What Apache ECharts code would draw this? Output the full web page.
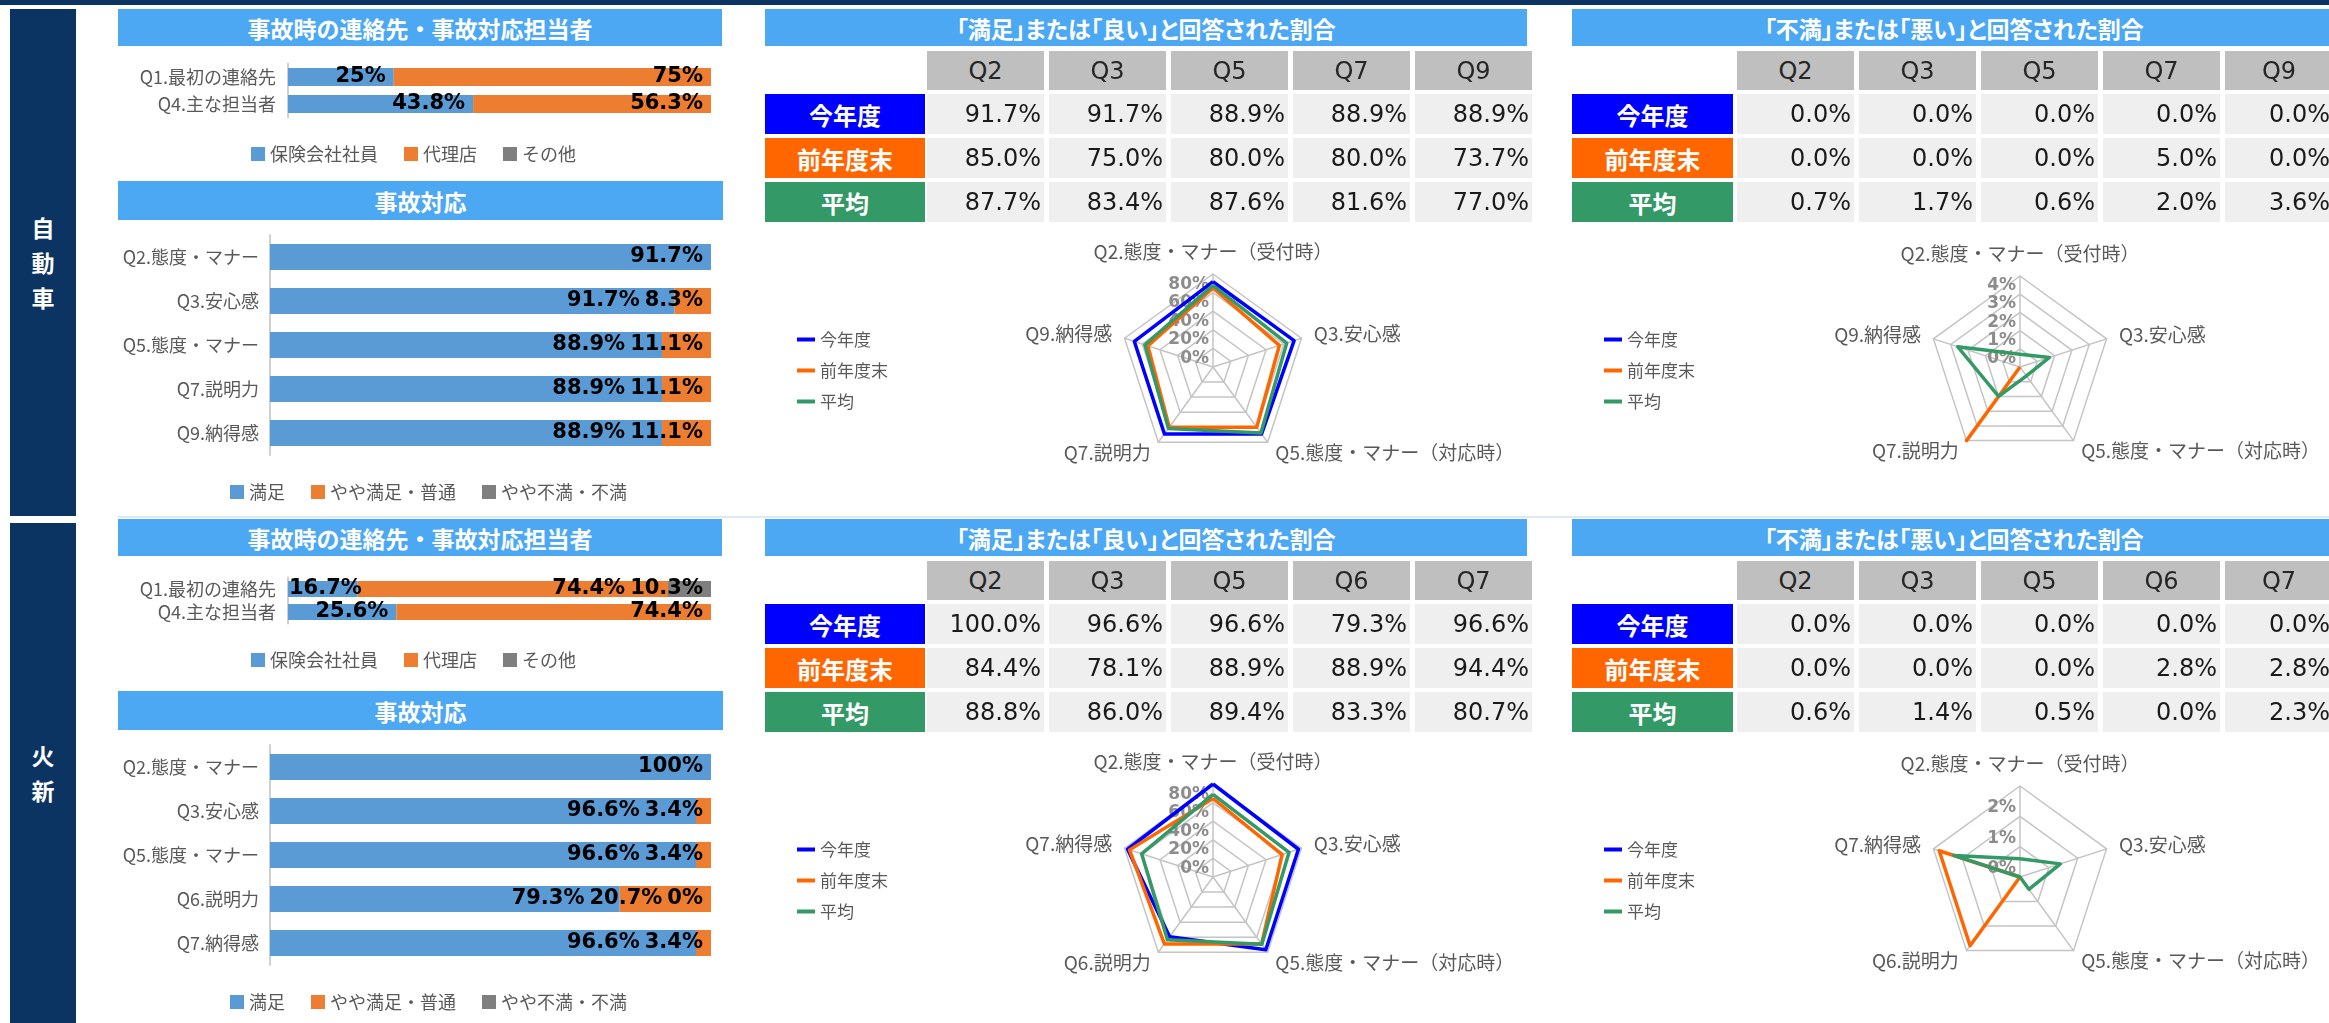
<!DOCTYPE html>
<html>
<head>
<meta charset="utf-8">
<script src="https://cdn.jsdelivr.net/npm/echarts@6/dist/echarts.min.js"></script>
<style>
  body { margin: 0; width: 2329px; height: 1023px; overflow: hidden; background: #fff; position: relative;
         font-family: "Noto Sans CJK JP", sans-serif; }
  .abs { position: absolute; box-sizing: border-box; }
  .chart { position: absolute; left: 0; width: 2329px; height: 510px; }
  .navy { background: #0B3462; }
  .side { background: #0B3462; color: #fff; font-weight: bold; font-size: 23px; line-height: 35px;
          display: flex; align-items: center; justify-content: center; text-align: center; }
  .hdr { background: #4DA8F4; color: #fff; font-weight: bold; font-size: 23px;
         display: flex; align-items: center; justify-content: center; white-space: nowrap; }
  .hdr.palt { font-feature-settings: "palt"; font-size: 23px; }
  .qh { background: #BFBFBF; color: #262626; font-family: "DejaVu Sans"; font-size: 24px;
        display: flex; align-items: center; justify-content: center; }
  .val { background: #EFEFEF; color: #1a1a1a; font-family: "DejaVu Sans"; font-size: 24px;
         display: flex; align-items: center; justify-content: flex-end; padding-right: 3px; white-space: nowrap; }
  .rl { color: #fff; font-weight: bold; font-size: 24px; display: flex; align-items: center; justify-content: center; }
</style>
</head>
<body>
<script>
// ---- 自動車 ----
const carContactCats = ['Q1.最初の連絡先', 'Q4.主な担当者'];
const carContactStaff = [25, 43.8];
const carContactAgent = [75, 56.3];
const carContactOther = [null, null];
const carHandleCats = ['Q2.態度・マナー', 'Q3.安心感', 'Q5.態度・マナー', 'Q7.説明力', 'Q9.納得感'];
const carHandleSat = [91.7, 91.7, 88.9, 88.9, 88.9];
const carHandleMid = [null, 8.3, 11.1, 11.1, 11.1];
const carHandleDis = [null, null, null, null, null];
const carQs = ['Q2', 'Q3', 'Q5', 'Q7', 'Q9'];
const carRadarNames = ['Q2.態度・マナー（受付時）', 'Q3.安心感', 'Q5.態度・マナー（対応時）', 'Q7.説明力', 'Q9.納得感'];
const carGoodThis = [91.7, 91.7, 88.9, 88.9, 88.9];
const carGoodPrev = [85.0, 75.0, 80.0, 80.0, 73.7];
const carGoodAvg = [87.7, 83.4, 87.6, 81.6, 77.0];
const carBadThis = [0.0, 0.0, 0.0, 0.0, 0.0];
const carBadPrev = [0.0, 0.0, 0.0, 5.0, 0.0];
const carBadAvg = [0.7, 1.7, 0.6, 2.0, 3.6];
const carBadMax = 5, carBadSplit = 5;

// ---- 火新 ----
const fireContactCats = ['Q1.最初の連絡先', 'Q4.主な担当者'];
const fireContactStaff = [16.7, 25.6];
const fireContactAgent = [74.4, 74.4];
const fireContactOther = [10.3, null];
const fireHandleCats = ['Q2.態度・マナー', 'Q3.安心感', 'Q5.態度・マナー', 'Q6.説明力', 'Q7.納得感'];
const fireHandleSat = [100, 96.6, 96.6, 79.3, 96.6];
const fireHandleMid = [null, 3.4, 3.4, 20.7, 3.4];
const fireHandleDis = [null, null, null, 0, null];
const fireQs = ['Q2', 'Q3', 'Q5', 'Q6', 'Q7'];
const fireRadarNames = ['Q2.態度・マナー（受付時）', 'Q3.安心感', 'Q5.態度・マナー（対応時）', 'Q6.説明力', 'Q7.納得感'];
const fireGoodThis = [100.0, 96.6, 96.6, 79.3, 96.6];
const fireGoodPrev = [84.4, 78.1, 88.9, 88.9, 94.4];
const fireGoodAvg = [88.8, 86.0, 89.4, 83.3, 80.7];
const fireBadThis = [0.0, 0.0, 0.0, 0.0, 0.0];
const fireBadPrev = [0.0, 0.0, 0.0, 2.8, 2.8];
const fireBadAvg = [0.6, 1.4, 0.5, 0.0, 2.3];
const fireBadMax = 3, fireBadSplit = 3;

const goodMax = 100, goodSplit = 5;
const contactNames = ['保険会社社員', '代理店', 'その他'];
const handleNames = ['満足', 'やや満足・普通', 'やや不満・不満'];
const rowNames = ['今年度', '前年度末', '平均'];

const barColors = ['#5B9BD5', '#ED7D31', '#7F7F7F'];
const rowColors = ['#0000FF', '#FF6600', '#339966'];
const radarOrder = [0, 4, 3, 2, 1]; // 上から時計回りに並べるため

function box(x, y, w, h, cls, html, bg) {
  const d = document.createElement('div');
  d.className = 'abs ' + cls;
  d.style.left = x + 'px'; d.style.top = y + 'px';
  d.style.width = w + 'px'; d.style.height = h + 'px';
  if (bg) d.style.background = bg;
  d.innerHTML = html;
  document.body.appendChild(d);
}

function table(top, x0, labelW, cellX0, qs, rows, lastW) {
  qs.forEach((q, k) => box(cellX0 + k * 122, top + 51, k === 4 ? lastW : 117, 39, 'qh', q));
  rows.forEach((r, i) => {
    const y = top + 94 + i * 44;
    box(x0, y, labelW, 40, 'rl', rowNames[i], rowColors[i]);
    r.forEach((v, k) => box(cellX0 + k * 122, y, k === 4 ? lastW : 117, 40, 'val', v.toFixed(1) + '%'));
  });
}

// ラベルが重ならないように右から順に左へ寄せる（左端ははみ出さない）
const measureCtx = document.createElement('canvas').getContext('2d');
const BAR_FONT = 'bold 21px "DejaVu Sans"';
function labelOffsets(cols, gridW) {
  measureCtx.font = BAR_FONT;
  const pad = 8, gap = 5;
  const out = cols.map(() => []);
  for (let j = 0; j < cols[0].length; j++) {
    const tot = cols.reduce((a, c) => a + (c[j] || 0), 0);
    let cum = 0;
    const ends = cols.map(c => { cum += (c[j] || 0); return cum / tot * gridW; });
    let limit = Infinity;
    for (let i = cols.length - 1; i >= 0; i--) {
      const v = cols[i][j];
      if (v == null) { out[i][j] = 0; continue; }
      const w = measureCtx.measureText(v + '%').width;
      const natural = ends[i] - pad;
      const right = Math.max(Math.min(natural, limit), w + 1);
      out[i][j] = right - natural;
      limit = right - w - gap;
    }
  }
  return out;
}

function barSeries(names, cols, gi, gridW, bw) {
  const offs = labelOffsets(cols, gridW);
  return cols.map((col, i) => ({
    name: names[i], type: 'bar', stack: 's' + gi, xAxisIndex: gi, yAxisIndex: gi, barWidth: bw,
    itemStyle: { color: barColors[i] },
    label: { show: true, position: 'insideRight', distance: 8, color: '#000',
             fontFamily: 'DejaVu Sans', fontWeight: 'bold', fontSize: 21,
             formatter: p => p.data.raw + '%' },
    data: col.map((v, j) => {
      if (v == null) return null;
      const tot = cols.reduce((a, c) => a + (c[j] || 0), 0);
      return { value: v / tot * 100, raw: v, label: { offset: [offs[i][j], 0] } };
    })
  }));
}

function radarCfg(cx, cy, r, names, max, split) {
  return {
    center: [cx, cy], radius: r, startAngle: 90, shape: 'polygon', splitNumber: split, nameGap: 13,
    indicator: radarOrder.map((k, i) => ({ name: names[k], min: 0, max: max,
      axisLabel: { show: i === 0 } })),
    axisName: { color: '#595959', fontSize: 19, fontFamily: 'Noto Sans CJK JP' },
    axisLine: { lineStyle: { color: '#C4C4C4', width: 1.5 } },
    splitLine: { lineStyle: { color: '#C4C4C4', width: 1.5 } },
    splitArea: { show: false },
    axisTick: { show: false },
    axisLabel: { show: false, color: '#8C8C8C', fontFamily: 'DejaVu Sans', fontWeight: 'bold', fontSize: 17,
                 margin: 4, verticalAlign: 'bottom',
                 formatter: v => (v >= max ? '' : v + '%') }
  };
}

function radarSeries(ri, vals) {
  return {
    type: 'radar', radarIndex: ri, symbol: 'none',
    data: vals.map((arr, i) => ({
      name: rowNames[i], value: radarOrder.map(k => arr[k]),
      lineStyle: { color: rowColors[i], width: 3.5 }, itemStyle: { color: rowColors[i] }
    }))
  };
}

function legendBar(left, top, names) {
  return { data: names, left: left, top: top, icon: 'rect', itemWidth: 14, itemHeight: 14, itemGap: 26,
           textStyle: { color: '#595959', fontSize: 18, fontFamily: 'Noto Sans CJK JP' } };
}
function legendRadar(left, top) {
  return { data: rowNames, left: left, top: top, orient: 'vertical', icon: 'rect', itemWidth: 18, itemHeight: 4,
           itemGap: 14, textStyle: { color: '#595959', fontSize: 17, fontFamily: 'Noto Sans CJK JP' } };
}

function catAxis(gi, cats, margin) {
  return { type: 'category', gridIndex: gi, data: cats, inverse: true,
           axisLine: { lineStyle: { color: '#D0D0D0', width: 2 } }, axisTick: { show: false },
           axisLabel: { color: '#595959', fontSize: 18, fontFamily: 'Noto Sans CJK JP', margin: margin, interval: 0 } };
}

const sections = [
  { top: 0, side: '自<br>動<br>車', sideTop: 9, sideH: 507,
    contactCats: carContactCats, contact: [carContactStaff, carContactAgent, carContactOther],
    handleCats: carHandleCats, handle: [carHandleSat, carHandleMid, carHandleDis],
    qs: carQs, radarNames: carRadarNames,
    good: [carGoodThis, carGoodPrev, carGoodAvg], bad: [carBadThis, carBadPrev, carBadAvg],
    badMax: carBadMax, badSplit: carBadSplit, bar1Top: 63.5, bar1H: 54, bar1W: 18, leg1: 140 },
  { top: 510, side: '火<br>新', sideTop: 523, sideH: 500,
    contactCats: fireContactCats, contact: [fireContactStaff, fireContactAgent, fireContactOther],
    handleCats: fireHandleCats, handle: [fireHandleSat, fireHandleMid, fireHandleDis],
    qs: fireQs, radarNames: fireRadarNames,
    good: [fireGoodThis, fireGoodPrev, fireGoodAvg], bad: [fireBadThis, fireBadPrev, fireBadAvg],
    badMax: fireBadMax, badSplit: fireBadSplit, bar1Top: 67.5, bar1H: 46, bar1W: 16, leg1: 136 }
];

box(0, 0, 2329, 5, 'navy', '');
box(118, 516, 2211, 2, '', '', '#DDEAF6');

sections.forEach(s => {
  const el = document.createElement('div');
  el.className = 'chart';
  el.style.top = s.top + 'px';
  document.body.appendChild(el);

  box(10, s.sideTop, 66, s.sideH, 'side', s.side);
  box(118, s.top + 9, 604, 37, 'hdr', '事故時の連絡先・事故対応担当者');
  box(118, s.top + 181, 605, 39, 'hdr', '事故対応');
  box(765, s.top + 9, 762, 37, 'hdr palt', '「満足」または「良い」と回答された割合');
  box(1572, s.top + 9, 764, 37, 'hdr palt', '「不満」または「悪い」と回答された割合');
  table(s.top, 765, 160, 927, s.qs, s.good, 117);
  table(s.top, 1572, 161, 1737, s.qs, s.bad, 108);

  const chart = echarts.init(el);
  chart.setOption({
    animation: false,
    grid: [
      { left: 288, top: s.bar1Top, width: 423, height: s.bar1H, outerBoundsMode: 'none' },
      { left: 270, top: 235, width: 441, height: 220, outerBoundsMode: 'none' }
    ],
    xAxis: [
      { type: 'value', gridIndex: 0, min: 0, max: 100, show: false },
      { type: 'value', gridIndex: 1, min: 0, max: 100, show: false }
    ],
    yAxis: [catAxis(0, s.contactCats, 12), catAxis(1, s.handleCats, 11)],
    radar: [
      radarCfg(1213, 367, 93, s.radarNames, goodMax, goodSplit),
      radarCfg(2020, 367, 91, s.radarNames, s.badMax, s.badSplit)
    ],
    legend: [
      legendBar(246, s.leg1, contactNames),
      legendBar(225, 478, handleNames),
      legendRadar(792, 326),
      legendRadar(1599, 326)
    ],
    series: [
      ...barSeries(contactNames, s.contact, 0, 423, s.bar1W),
      ...barSeries(handleNames, s.handle, 1, 441, 26),
      radarSeries(0, s.good),
      radarSeries(1, s.bad)
    ]
  });
});
</script>
</body>
</html>
